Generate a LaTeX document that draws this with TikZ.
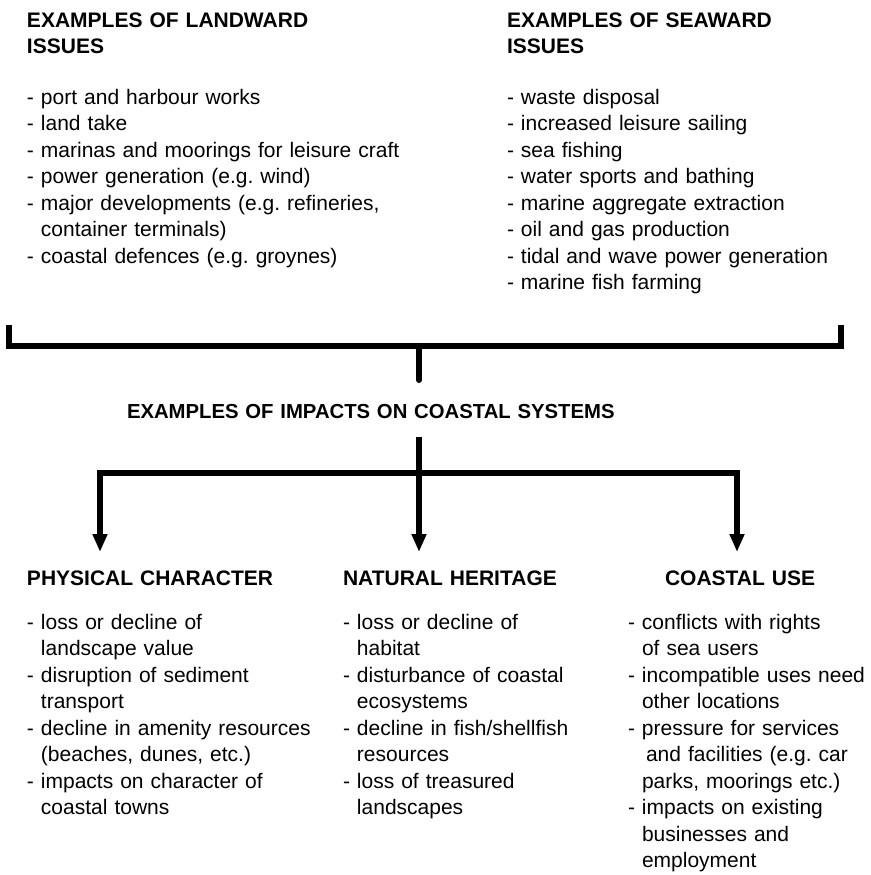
\documentclass[tikz,border=0pt]{standalone}
\usepackage{fontspec}
\setmainfont{Liberation Sans}
\usetikzlibrary{arrows.meta}
\frenchspacing
\begin{document}
\begin{tikzpicture}[x=1pt,y=1pt,
  every node/.style={inner sep=0pt, outer sep=0pt},
  head/.style={anchor=base west, align=left, text width=420pt,
    font=\fontsize{21}{25.5}\selectfont\bfseries},
  list/.style={anchor=base west, align=left, text width=420pt,
    font=\fontsize{21}{26.5}\selectfont},
  link/.style={line width=6pt, line join=miter},
  pointer/.style={link, -{Triangle[length=18pt,width=14pt]}}]

\fill[white] (0,0) rectangle (870,-875);
\useasboundingbox (0,0) rectangle (870,-875);

% upper two columns of issues
\node[head] (landhead) at (27,-28) {EXAMPLES OF LANDWARD\\ISSUES};
\node[head] (seahead) at (507,-28) {EXAMPLES OF SEAWARD\\ISSUES};

\node[list] (landlist) at (27,-104) {- port and harbour works\\- land take\\- marinas and moorings for leisure craft\\- power generation (e.g. wind)\\- major developments (e.g. refineries,\\\hphantom{- }container terminals)\\- coastal defences (e.g. groynes)};
\node[list] (sealist) at (507,-104) {- waste disposal\\- increased leisure sailing\\- sea fishing\\- water sports and bathing\\- marine aggregate extraction\\- oil and gas production\\- tidal and wave power generation\\- marine fish farming};

% bracket joining both columns
\coordinate (bl) at (9,-325);
\coordinate (br) at (841,-325);
\coordinate (bm) at (419,-346);
\coordinate (stemend) at (419,-380);
\draw[link] (bl) -- (bl |- bm) -- (br |- bm) -- (br);
\draw[link, line cap=round] (bm) -- (stemend);

% central heading
\node[head, text width=600pt, font=\fontsize{20.3}{24}\selectfont\bfseries] (impacts) at (127,-418) {EXAMPLES OF IMPACTS ON COASTAL SYSTEMS};

% distribution to the three impact groups
\coordinate (stemtop) at (419,-437);
\coordinate (junction) at (419,-473);
\coordinate (physend) at (100,-552);
\coordinate (natend) at (419,-552);
\coordinate (useend) at (737,-552);
\draw[pointer] (stemtop) -- (natend);
\draw[pointer] (junction) -| (physend);
\draw[pointer] (junction) -| (useend);

% the three impact groups
\node[head] (physhead) at (27,-585) {PHYSICAL CHARACTER};
\node[head] (nathead) at (343,-585) {NATURAL HERITAGE};
\node[head] (usehead) at (665,-585) {COASTAL USE};

\node[list] (physlist) at (27,-629) {- loss or decline of\\\hphantom{- }landscape value\\- disruption of sediment\\\hphantom{- }transport\\- decline in amenity resources\\\hphantom{- }(beaches, dunes, etc.)\\- impacts on character of\\\hphantom{- }coastal towns};
\node[list] (natlist) at (343,-629) {- loss or decline of\\\hphantom{- }habitat\\- disturbance of coastal\\\hphantom{- }ecosystems\\- decline in fish/shellfish\\\hphantom{- }resources\\- loss of treasured\\\hphantom{- }landscapes};
\node[list] (uselist) at (628,-629) {- conflicts with rights\\\hphantom{- }of sea users\\- incompatible uses need\\\hphantom{- }other locations\\- pressure for services\\\hphantom{- }\hspace{4pt}and facilities (e.g. car\\\hphantom{- }parks, moorings etc.)\\- impacts on existing\\\hphantom{- }businesses and\\\hphantom{- }employment};
\end{tikzpicture}
\end{document}
